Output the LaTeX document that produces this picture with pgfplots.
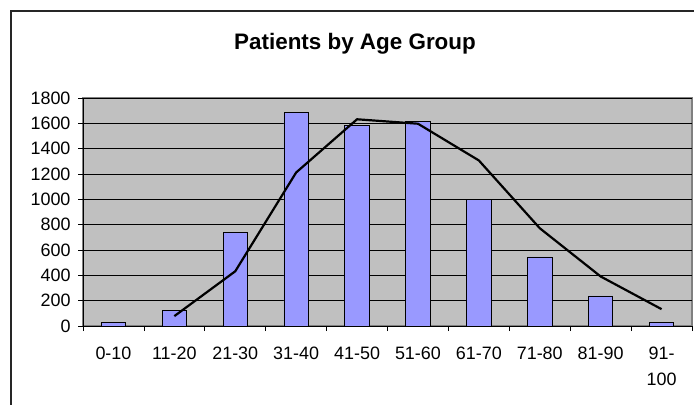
\documentclass[border=0pt]{standalone}
\usepackage{pgfplots}
\pgfplotsset{compat=1.18}
\usepackage{fontspec}
\setmainfont{Liberation Sans}
\definecolor{plotgray}{HTML}{C0C0C0}
\definecolor{bordergray}{HTML}{808080}
\definecolor{barblue}{HTML}{9999FF}
\begin{document}
\begin{tikzpicture}[x=1bp,y=1bp]
\useasboundingbox (0,0) rectangle (694,404);
\draw[line width=1.3bp, black!85] (11,-5) -- (11,393) -- (700,393);
\node[font=\fontsize{22.5}{26}\selectfont\bfseries, anchor=base, inner sep=0pt] at (355,354.7) {Patients by Age Group};
\begin{axis}[
  at={(83bp,78bp)}, anchor=south west,
  scale only axis, width=609bp, height=228bp,
  xmin=-0.5, xmax=9.5, ymin=0, ymax=1800,
  ytick={0,200,...,1800},
  xtick={0,...,9},
  xticklabels={0-10,11-20,21-30,31-40,41-50,51-60,61-70,71-80,81-90,{91-\\100}},
  x tick style={draw=none},
  extra x ticks={-0.5,0.5,...,9.5},
  extra x tick labels={},
  extra x tick style={x tick style={draw=black, line width=0.8bp}, major tick length=5bp},
  tick align=outside,
  major tick length=5bp,
  y tick style={draw=black, line width=0.8bp},
  axis x line*=bottom, axis y line*=left,
  x axis line style={-, black, line width=0.8bp},
  y axis line style={-, black, line width=0.8bp},
  axis background/.style={fill=plotgray, draw=bordergray, line width=1.2bp},
  ymajorgrids, grid style={black, line width=0.7bp},
  ticklabel style={font=\fontsize{18}{27}\selectfont},
  xticklabel style={align=center, yshift=-12bp},
  yticklabel style={xshift=-4bp},
  /pgf/number format/assume math mode=true,
  /pgf/number format/1000 sep={},
  clip=false,
]
\addplot[ybar, bar width=0.4, fill=barblue, draw=black, line width=0.8bp]
  coordinates {(0,30) (1,125) (2,740) (3,1685) (4,1580) (5,1615) (6,1000) (7,545) (8,237) (9,30)};
\addplot[black, line width=2.2bp, mark=none]
  coordinates {(1,78) (2,432) (3,1212) (4,1632) (5,1597) (6,1307) (7,772) (8,391) (9,133)};
\end{axis}
\end{tikzpicture}
\end{document}
